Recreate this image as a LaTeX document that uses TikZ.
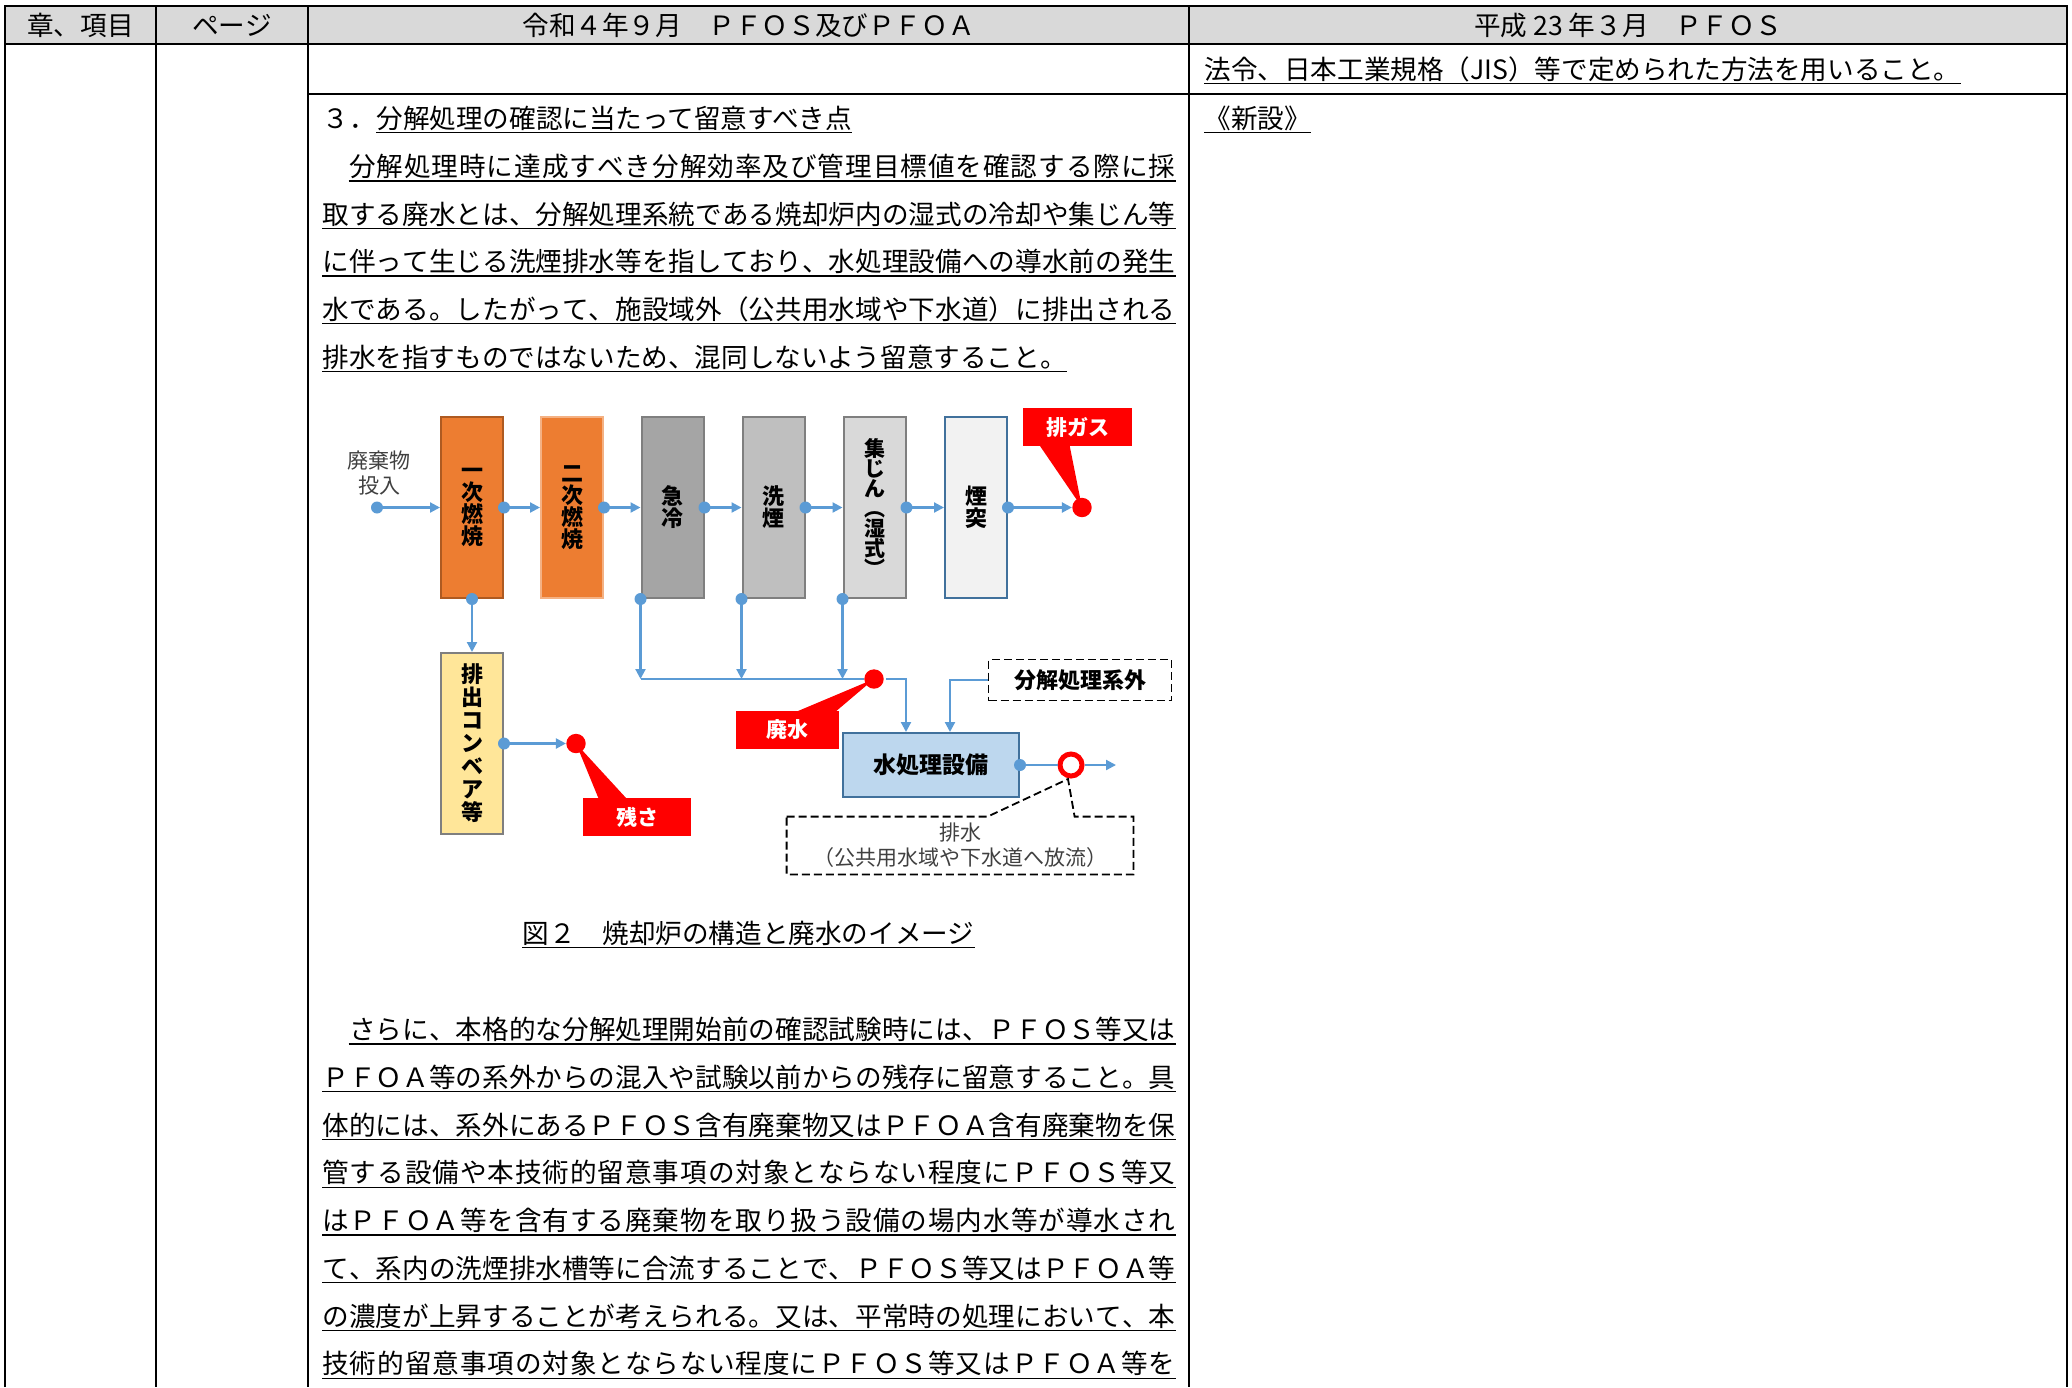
\documentclass[tikz,border=0pt]{standalone}
\usepackage{fontspec}
\setmainfont{Noto Sans CJK JP}
\usetikzlibrary{arrows.meta,calc}
\definecolor{lblue}{HTML}{5B9BD5}
\definecolor{orgf}{HTML}{ED7D31}
\definecolor{orgd}{HTML}{AE5A21}
\definecolor{orgl}{HTML}{F4B183}
\definecolor{gA}{HTML}{A5A5A5}
\definecolor{gB}{HTML}{BFBFBF}
\definecolor{gC}{HTML}{D9D9D9}
\definecolor{gD}{HTML}{F2F2F2}
\definecolor{gbd}{HTML}{7F7F7F}
\definecolor{bbd}{HTML}{41719C}
\definecolor{yel}{HTML}{FFE699}
\definecolor{wblue}{HTML}{BDD7EE}
\definecolor{hdr}{HTML}{D9D9D9}
\definecolor{dgray}{HTML}{404040}
\ExplSyntaxOn
\NewDocumentCommand\jl{mm}{\hbox~to~#1{\tl_map_inline:nn{#2}{##1\hskip~0pt~plus~1fil~minus~0.5pt}\unskip}}
\ExplSyntaxOff
\newcommand\ulin[1]{\draw[ulst] ([yshift=-2.25pt]#1.base west) -- ([yshift=-2.25pt]#1.base east);}
\begin{document}
\begin{tikzpicture}[x=0.5pt,y=-0.5pt,
  tbl/.style={line width=1pt},
  body/.style={anchor=base west,inner sep=0pt,font=\fontsize{13.3pt}{16pt}\selectfont},
  hd/.style={anchor=base,inner sep=0pt,font=\fontsize{13.3pt}{16pt}\selectfont},
  ulst/.style={line width=0.7pt},
  flow/.style={draw=lblue,line width=1.1pt,-{Triangle[length=5pt,width=5pt]}},
  pipe/.style={draw=lblue,line width=1.1pt},
  proc/.style={draw,line width=1pt,inner sep=0pt,minimum width=31pt,minimum height=90.5pt,align=center,font=\bfseries\fontsize{11pt}{11pt}\selectfont},
  rdot/.style={circle,fill=red,inner sep=0pt,minimum size=9.7pt},
  callout/.style={fill=red,text=white,inner sep=0pt,minimum height=19pt,font=\bfseries\fontsize{10.5pt}{12pt}\selectfont},
  dashln/.style={draw=black,line width=0.9pt,dash pattern=on 4pt off 2pt},
  lbl/.style={inner sep=0pt,align=center,text=dgray,font=\fontsize{10.5pt}{12.5pt}\selectfont}
]
\useasboundingbox (0,0) rectangle (2072,1387);
% ---------- table ----------
\fill[hdr] (5,5.5) rectangle (2067,43.5);
\draw[tbl] (5,1387) -- (5,5.5) -- (2067,5.5) -- (2067,1387);
\draw[tbl] (5,43.5) -- (2067,43.5);
\draw[tbl] (308,94) -- (2067,94);
\draw[tbl] (156,5.5) -- (156,1387);
\draw[tbl] (308,5.5) -- (308,1387);
\draw[tbl] (1189,5.5) -- (1189,1387);
% header
\node[hd] (h1) at (80.5,35.5) {章、項目};
\node[hd] (h2) at (232,35.5) {ページ};
\node[hd] (h3) at (748.5,35.5) {令和４年９月　ＰＦＯＳ及びＰＦＯＡ};
\node[hd] (h4) at (1628,35.5) {平成 23 年３月　ＰＦＯＳ};
% right column
\node[body] (r1) at (1204,79) {法令、日本工業規格（JIS）等で定められた方法を用いること。};
\ulin{r1}
\node[body] (r2) at (1204,128) {《新設》};
\ulin{r2}
% left text
\node[body] (s0) at (322,128) {３．};
\node[body] (s1) at (s0.base east) {分解処理の確認に当たって留意すべき点};
\ulin{s1}
\node[body] (p1) at (348.7,176.5) {\jl{413.15pt}{分解処理時に達成すべき分解効率及び管理目標値を確認する際に採}};
\ulin{p1}
\node[body] (p2) at (322,224) {\jl{426.5pt}{取する廃水とは、分解処理系統である焼却炉内の湿式の冷却や集じん等}};
\ulin{p2}
\node[body] (p3) at (322,271.5) {\jl{426.5pt}{に伴って生じる洗煙排水等を指しており、水処理設備への導水前の発生}};
\ulin{p3}
\node[body] (p4) at (322,319) {\jl{426.5pt}{水である。したがって、施設域外（公共用水域や下水道）に排出される}};
\ulin{p4}
\node[body] (p5) at (322,367) {排水を指すものではないため、混同しないよう留意すること。};
\ulin{p5}
\node[hd] (cap) at (748.5,943) {図２　焼却炉の構造と廃水のイメージ};
\ulin{cap}
\node[body] (q1) at (348.7,1039.5) {\jl{413.15pt}{さらに、本格的な分解処理開始前の確認試験時には、ＰＦＯＳ等又は}};
\ulin{q1}
\node[body] (q2) at (322,1087.25) {\jl{426.5pt}{ＰＦＯＡ等の系外からの混入や試験以前からの残存に留意すること。具}};
\ulin{q2}
\node[body] (q3) at (322,1135) {\jl{426.5pt}{体的には、系外にあるＰＦＯＳ含有廃棄物又はＰＦＯＡ含有廃棄物を保}};
\ulin{q3}
\node[body] (q4) at (322,1182.75) {\jl{426.5pt}{管する設備や本技術的留意事項の対象とならない程度にＰＦＯＳ等又}};
\ulin{q4}
\node[body] (q5) at (322,1230.5) {\jl{426.5pt}{はＰＦＯＡ等を含有する廃棄物を取り扱う設備の場内水等が導水され}};
\ulin{q5}
\node[body] (q6) at (322,1278.25) {\jl{426.5pt}{て、系内の洗煙排水槽等に合流することで、ＰＦＯＳ等又はＰＦＯＡ等}};
\ulin{q6}
\node[body] (q7) at (322,1326) {\jl{426.5pt}{の濃度が上昇することが考えられる。又は、平常時の処理において、本}};
\ulin{q7}
\node[body] (q8) at (322,1373.75) {\jl{426.5pt}{技術的留意事項の対象とならない程度にＰＦＯＳ等又はＰＦＯＡ等を}};
\ulin{q8}
% ---------- diagram ----------
\node[proc,fill=orgf,draw=orgd] (b1) at (472,507.5) {一\\次\\燃\\焼};
\node[proc,fill=orgf,draw=orgl] (b2) at (572,507.5) {二\\次\\燃\\焼};
\node[proc,fill=gA,draw=gbd] (b3) at (672.5,507.5) {急\\冷};
\node[proc,fill=gB,draw=gbd] (b4) at (773.5,507.5) {洗\\煙};
\node[proc,fill=gC,draw=gbd,font=\bfseries\fontsize{10.5pt}{10pt}\selectfont] (b5) at (874.5,507.5) {集\\じ\\ん\\︵\\湿\\式\\︶};
\node[proc,fill=gD,draw=bbd] (b6) at (976,507.5) {煙\\突};
\node[proc,fill=yel,draw=gbd,font=\bfseries\fontsize{11pt}{11.5pt}\selectfont] (b7) at (472,743.5) {排\\出\\コ\\ン\\ベ\\ア\\等};
\node[proc,fill=wblue,draw=bbd,minimum width=88pt,minimum height=32pt,font=\bfseries\fontsize{11.5pt}{12pt}\selectfont] (b8) at (931,765) {水処理設備};
\node[lbl] (inl) at (379,473.5) {廃棄物\\投入};
\node[draw=black,dashln,inner sep=0pt,minimum width=91.5pt,minimum height=20.5pt,font=\bfseries\fontsize{11pt}{12pt}\selectfont] (ext) at (1080,680) {分解処理系外};
% red points
\node[rdot] (gas) at (1082,507.5) {};
\node[rdot] (res) at (576,743.5) {};
\node[rdot] (drain) at (874,679) {};
\node[circle,draw=red,line width=2.5pt,fill=white,inner sep=0pt,minimum size=11pt] (out) at (1071,765) {};
\coordinate (in) at (377,507.5);
\coordinate (oend) at (1116,765);
\coordinate (ptip) at (1068,779);
% main flow
\draw[flow] (in) -- (b1.west);
\draw[flow] (b1.east) -- (b2.west);
\draw[flow] (b2.east) -- (b3.west);
\draw[flow] (b3.east) -- (b4.west);
\draw[flow] (b4.east) -- (b5.west);
\draw[flow] (b5.east) -- (b6.west);
\draw[flow] (b6.east) -- (gas);
\draw[flow] (b1.south) -- (b7.north);
\draw[flow] (b7.east) -- (res);
\draw[pipe] (b3.south west |- drain) -- (drain);
\draw[flow] (b3.south west) -- (b3.south west |- drain);
\draw[flow] (b4.south west) -- (b4.south west |- drain);
\draw[flow] (b5.south west) -- (b5.south west |- drain);
\draw[flow] ([xshift=1pt]drain.east) -| ([xshift=32pt]b8.north west);
\draw[flow] (ext.west) -| ([xshift=54pt]b8.north west);
\draw[pipe] (b8.east) -- (out);
\draw[flow] (out) -- (oend);
% blue dots
\foreach \p in {in,b1.east,b2.east,b3.east,b4.east,b5.east,b6.east,b1.south,b7.east,b3.south west,b4.south west,b5.south west,b8.east}
  \fill[lblue] (\p) circle (6);
% callouts
\node[callout,minimum width=54.5pt] (cg) at (1077.5,427) {排ガス};
\fill[red] ([xshift=8.5pt,yshift=0.5pt]cg.south west) -- ([xshift=23.5pt,yshift=0.5pt]cg.south west) -- (gas.center) -- cycle;
\node[callout,minimum width=51.5pt] (cw) at (787.5,730) {廃水};
\fill[red] ([xshift=30.5pt,yshift=-0.5pt]cw.north west) -- ([xshift=50pt,yshift=-0.5pt]cw.north west) -- (drain.center) -- cycle;
\node[callout,minimum width=54pt] (cr) at (637,817) {残さ};
\fill[red] ([xshift=8pt,yshift=-0.5pt]cr.north west) -- ([xshift=22pt,yshift=-0.5pt]cr.north west) -- (res.center) -- cycle;
% discharge callout
\node[lbl,minimum width=173pt,minimum height=28.5pt] (dbox) at (960,845.5) {排水\\（公共用水域や下水道へ放流）};
\draw[dashln] (dbox.north west) -- ([xshift=100.5pt]dbox.north west) -- (ptip) -- ([xshift=144pt]dbox.north west) -- (dbox.north east) -- (dbox.south east) -- (dbox.south west) -- cycle;
\end{tikzpicture}
\end{document}
